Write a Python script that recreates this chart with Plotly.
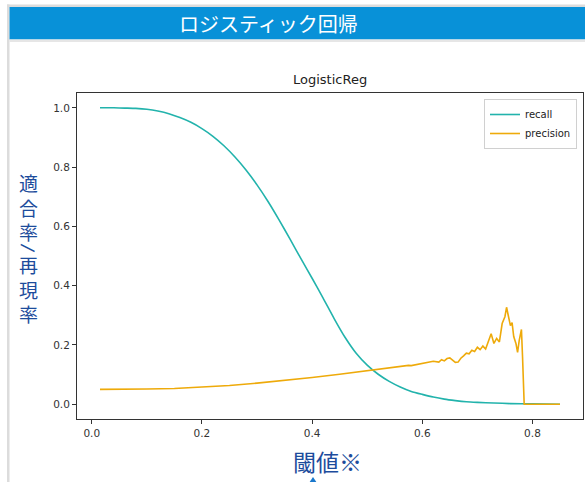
import plotly.graph_objects as go

W, H = 585, 482

# Threshold sweep for the logistic regression model
thr_recall = [0.015, 0.04, 0.06, 0.08, 0.10, 0.12, 0.14, 0.16, 0.18, 0.20, 0.22, 0.24,
              0.26, 0.28, 0.30, 0.32, 0.34, 0.36, 0.38, 0.40, 0.42, 0.44, 0.46, 0.48,
              0.50, 0.52, 0.54, 0.56, 0.58, 0.60, 0.62, 0.64, 0.66, 0.68, 0.70, 0.73,
              0.76, 0.80, 0.85]
recall = [1.000, 1.000, 0.999, 0.998, 0.995, 0.989, 0.980, 0.967, 0.951, 0.930, 0.904, 0.872,
          0.834, 0.790, 0.740, 0.684, 0.622, 0.557, 0.490, 0.425, 0.358, 0.289, 0.225, 0.172,
          0.132, 0.101, 0.077, 0.058, 0.043, 0.033, 0.024, 0.017, 0.012, 0.008, 0.006, 0.004,
          0.002, 0.001, 0.000]

thr_precision = [0.015, 0.05, 0.10, 0.15, 0.20, 0.25, 0.30, 0.35, 0.40, 0.45, 0.50, 0.52,
                 0.54, 0.555, 0.56, 0.575, 0.58, 0.60, 0.61, 0.62, 0.63, 0.635, 0.64, 0.645,
                 0.65, 0.655, 0.66, 0.665, 0.67, 0.675, 0.68, 0.685, 0.69, 0.695, 0.70, 0.705,
                 0.71, 0.715, 0.72, 0.725, 0.73, 0.735, 0.74, 0.745, 0.75, 0.753, 0.756, 0.76,
                 0.763, 0.766, 0.77, 0.773, 0.776, 0.78, 0.782, 0.785, 0.85]
precision = [0.050, 0.050, 0.051, 0.053, 0.057, 0.063, 0.071, 0.080, 0.090, 0.101, 0.113, 0.118,
             0.124, 0.128, 0.127, 0.131, 0.130, 0.137, 0.139, 0.145, 0.142, 0.150, 0.146, 0.154,
             0.156, 0.148, 0.141, 0.142, 0.155, 0.163, 0.172, 0.170, 0.182, 0.178, 0.192, 0.184,
             0.196, 0.186, 0.212, 0.238, 0.205, 0.222, 0.210, 0.272, 0.295, 0.327, 0.300, 0.265,
             0.275, 0.228, 0.205, 0.175, 0.215, 0.252, 0.160, 0.000, 0.000]

x_ticks = [0.0, 0.2, 0.4, 0.6, 0.8]
y_ticks = [0.0, 0.2, 0.4, 0.6, 0.8, 1.0]

header_text = "ロジスティック回帰"
plot_title = "LogisticReg"
y_label_top = ["適", "合", "率"]
y_label_sep = "/"
y_label_bottom = ["再", "現", "率"]
x_label = "閾値※"

TEAL = "#22b3ac"
AMBER = "#eeaa0a"
NAVY = "#1d4c9c"
BAR_BLUE = "#0891d8"
FRAME_GRAY = "#dcdcdc"
MPL_FONT = "DejaVu Sans"
JP_FONT = "Noto Sans CJK JP"


def px(x):
    return x / W


def py(y):
    return 1 - y / H


fig = go.Figure()
fig.add_trace(go.Scatter(x=thr_recall, y=recall, mode="lines", name="recall",
                         line=dict(color=TEAL, width=1.6, shape="spline", smoothing=0.6)))
fig.add_trace(go.Scatter(x=thr_precision, y=precision, mode="lines", name="precision",
                         line=dict(color=AMBER, width=1.6)))

axis_common = dict(showgrid=False, zeroline=False, showline=True, mirror=True,
                   linecolor="#333333", linewidth=1, ticks="outside", ticklen=4,
                   tickcolor="#333333", tickformat=".1f",
                   tickfont=dict(family=MPL_FONT, size=10.5, color="#333333"))

fig.update_layout(
    width=W, height=H,
    margin=dict(l=0, r=0, t=0, b=0),
    paper_bgcolor="white", plot_bgcolor="white",
    xaxis=dict(domain=[px(77), px(583)], range=[-0.02675, 0.89175],
               tickvals=x_ticks, **axis_common),
    yaxis=dict(domain=[py(419), py(93)], range=[-0.05, 1.05],
               tickvals=y_ticks, **axis_common),
    legend=dict(x=px(577), y=py(99), xanchor="right", yanchor="top",
                bgcolor="white", bordercolor="#d0d0d0", borderwidth=1,
                font=dict(family=MPL_FONT, size=10, color="#222222"),
                tracegroupgap=0, itemwidth=30),
    showlegend=True,
)

shapes = [
    # outer frame
    dict(type="rect", xref="paper", yref="paper", x0=px(7), x1=px(9.5), y0=py(H), y1=py(4.5),
         fillcolor=FRAME_GRAY, line=dict(width=0), layer="below"),
    dict(type="rect", xref="paper", yref="paper", x0=px(7), x1=px(W), y0=py(7), y1=py(4.5),
         fillcolor=FRAME_GRAY, line=dict(width=0), layer="below"),
    # header bar
    dict(type="rect", xref="paper", yref="paper", x0=px(9.5), x1=px(W), y0=py(39.5), y1=py(7),
         fillcolor=BAR_BLUE, line=dict(width=0), layer="below"),
    dict(type="rect", xref="paper", yref="paper", x0=px(9.5), x1=px(W), y0=py(42), y1=py(39.5),
         fillcolor="#e6e6e6", line=dict(width=0), layer="below"),
    # small pointer below the x label
    dict(type="path", xref="paper", yref="paper",
         path=f"M {px(309)} {py(483)} L {px(313)} {py(477)} L {px(317)} {py(483)} Z",
         fillcolor="#1a78cc", line=dict(width=0)),
]
fig.update_layout(shapes=shapes)

annotations = [
    dict(text=header_text, x=px(268), y=py(23.5), xref="paper", yref="paper",
         showarrow=False, xanchor="center", yanchor="middle",
         font=dict(family=JP_FONT, size=20, color="white")),
    dict(text=plot_title, x=px(330), y=py(80), xref="paper", yref="paper",
         showarrow=False, xanchor="center", yanchor="middle",
         font=dict(family=MPL_FONT, size=13, color="#222222")),
    dict(text=x_label, x=px(327), y=py(461), xref="paper", yref="paper",
         showarrow=False, xanchor="center", yanchor="middle",
         font=dict(family=JP_FONT, size=23, color=NAVY)),
    # vertical y label: two stacked groups with the separator between them
    dict(text="<br>".join(y_label_top), x=px(28), y=py(207), xref="paper", yref="paper",
         showarrow=False, xanchor="center", yanchor="middle", borderpad=0,
         font=dict(family=JP_FONT, size=19, color=NAVY)),
    dict(text=y_label_sep, x=px(28), y=py(248), xref="paper", yref="paper",
         showarrow=False, xanchor="center", yanchor="middle", borderpad=0,
         textangle=100, font=dict(family=MPL_FONT, size=18, color=NAVY)),
    dict(text="<br>".join(y_label_bottom), x=px(28), y=py(289), xref="paper", yref="paper",
         showarrow=False, xanchor="center", yanchor="middle", borderpad=0,
         font=dict(family=JP_FONT, size=19, color=NAVY)),
]

fig.update_layout(annotations=annotations)

fig.write_html("out.html")
